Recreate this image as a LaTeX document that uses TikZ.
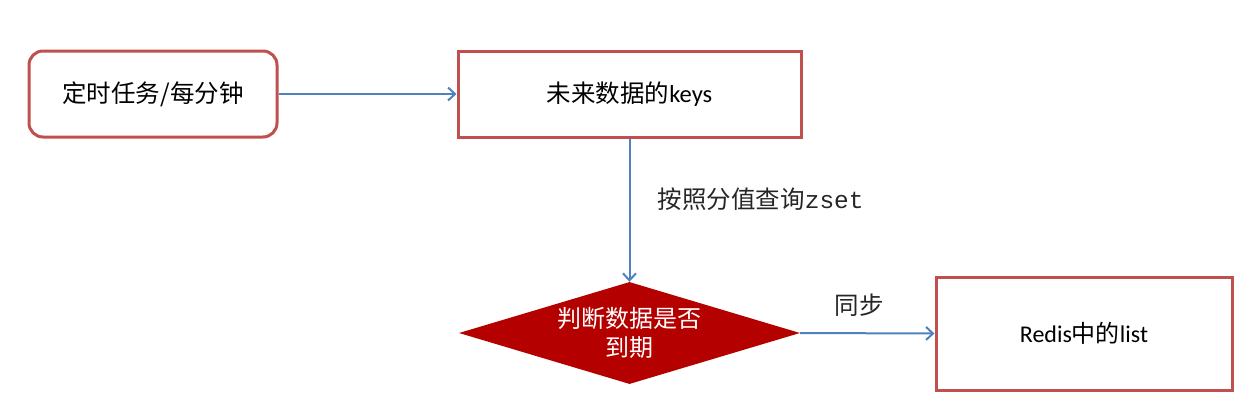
\documentclass[tikz,border=0pt]{standalone}
\usepackage{fontspec}
\setmainfont{Carlito}
\newfontfamily\cjk{Noto Sans CJK SC}
\newfontfamily\monofnt{Liberation Mono}
\usetikzlibrary{shapes.geometric,arrows.meta}
\definecolor{boxred}{HTML}{C0504D}
\definecolor{arrblue}{HTML}{4F81BD}
\definecolor{diafill}{HTML}{B50000}
\tikzset{
  stepbox/.style={draw=boxred, line width=3pt, fill=white, inner sep=0pt, font=\fontsize{24.5}{28}\selectfont},
  conn/.style={draw=arrblue, line width=2pt, -{Straight Barb[length=7pt,width=13pt,line width=2pt]}},
  lbl/.style={font=\fontsize{24.5}{28}\selectfont\cjk, text=black!85}
}
\begin{document}
\begin{tikzpicture}[x=1pt,y=-1pt]
\useasboundingbox (0,0) rectangle (1254,405);
\node[stepbox, rounded corners=14pt, minimum width=248pt, minimum height=86pt] (timer) at (153,94) {\cjk 定时任务/每分钟};
\node[stepbox, minimum width=343pt, minimum height=86pt] (keys) at (629.5,94) {{\cjk 未来数据的}keys};
\node[diamond, fill=diafill, draw=none, minimum width=341pt, minimum height=102pt, inner sep=0pt, aspect=3.34, text=white, align=center, font=\fontsize{24}{29}\selectfont\cjk] (judge) at (629.5,333) {判断数据是否\\到期};
\node[stepbox, minimum width=296pt, minimum height=113pt, font=\fontsize{24}{28}\selectfont] (redis) at (1084,333.5) {Redis{\cjk 中的}list};
\draw[conn] (timer.east) -- (keys.west);
\draw[conn] (keys.south) -- node[pos=0.42, right=24pt, lbl] (q) {按照分值查询{\monofnt zset}} (judge.north);
\draw[conn] (judge.east) -- node[pos=0.44, above=12pt, lbl] (sync) {同步} (redis.west);
\end{tikzpicture}
\end{document}
